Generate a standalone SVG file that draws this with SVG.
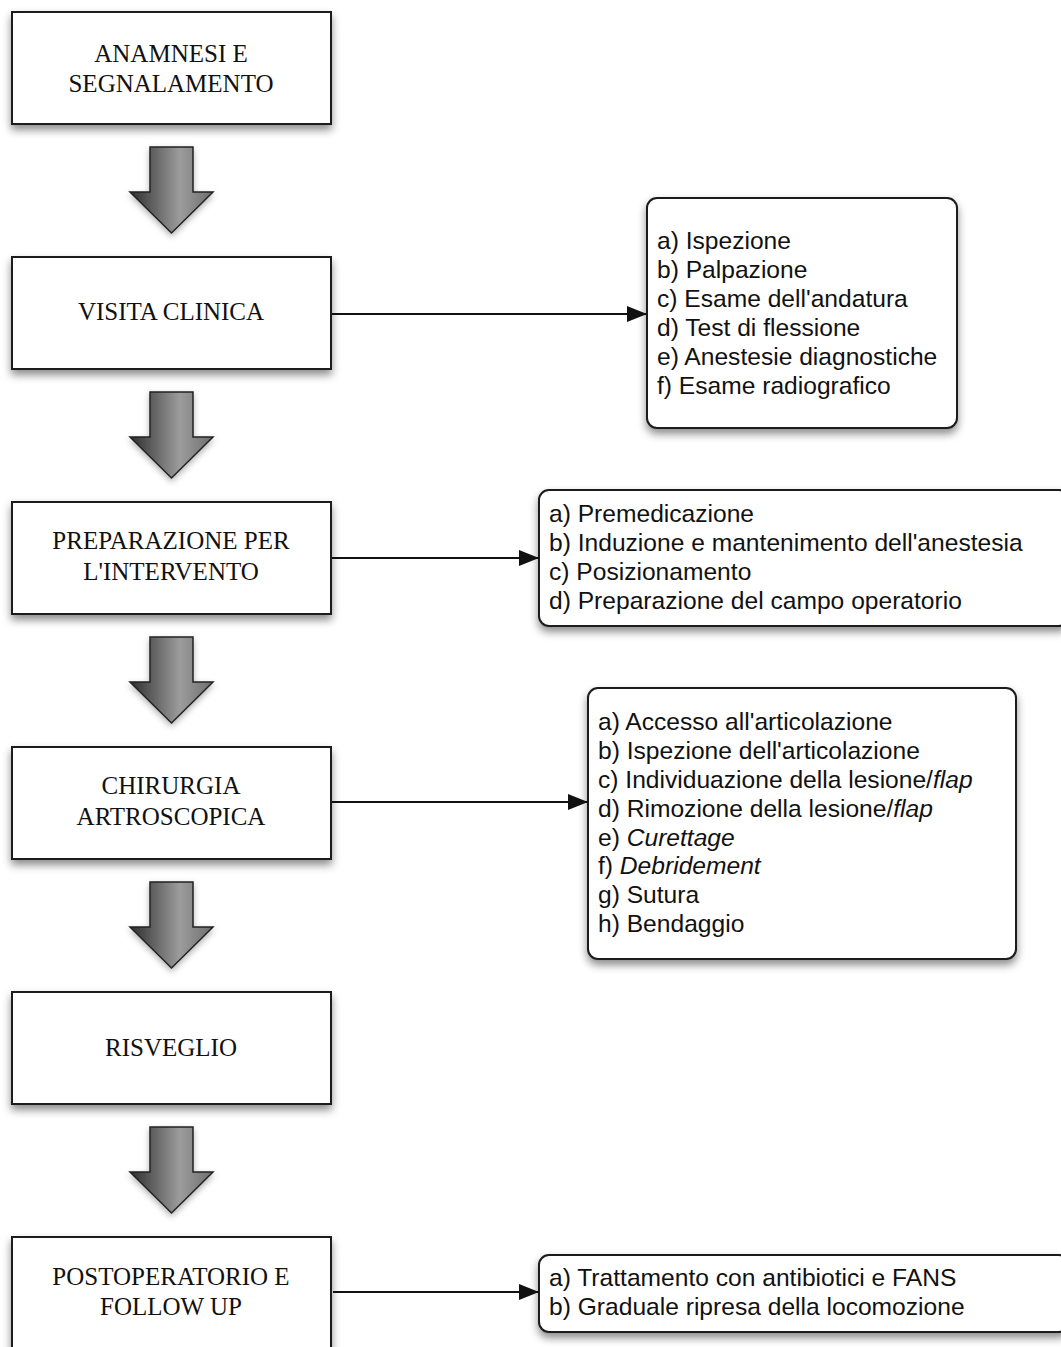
<svg xmlns="http://www.w3.org/2000/svg" width="1061" height="1347" viewBox="0 0 1061 1347">
<style>
.box{fill:#fff;stroke:#1a1a1a;stroke-width:2;filter:url(#sh)}
.lst{fill:#fff;stroke:#1a1a1a;stroke-width:2;filter:url(#sh)}
.st{font-family:"Liberation Serif","Times New Roman",serif;font-size:25px;fill:#111;text-anchor:middle}
.ss{font-family:"Liberation Sans",Arial,sans-serif;font-size:24.6px;fill:#111}
.it{font-style:italic}
.ba{fill:url(#g);stroke:#222;stroke-width:1.5;stroke-linejoin:miter;filter:url(#sh2)}
.con{stroke:#111;stroke-width:2;fill:none;marker-end:url(#ah)}
</style>
<defs>
<filter id="sh" x="-10%" y="-10%" width="120%" height="130%">
<feDropShadow dx="0" dy="5" stdDeviation="4" flood-color="#000" flood-opacity="0.45"/>
</filter>
<filter id="sh2" x="-20%" y="-20%" width="140%" height="140%">
<feDropShadow dx="0" dy="3" stdDeviation="3" flood-color="#000" flood-opacity="0.3"/>
</filter>
<linearGradient id="g" x1="0" y1="0" x2="1" y2="0">
<stop offset="0" stop-color="#2e2e2e"/>
<stop offset="0.6" stop-color="#9c9c9c"/>
<stop offset="1" stop-color="#6e6e6e"/>
</linearGradient>
<marker id="ah" markerUnits="userSpaceOnUse" markerWidth="20" markerHeight="16" refX="20" refY="8" orient="auto">
<path d="M0,0 L20,8 L0,16 Z" fill="#111"/>
</marker>
<path id="barrow" d="M150,147 H193 V192 H213 L171.5,233 L130,192 H150 Z"/>
</defs>

<g id="n1"><rect class="box" x="12" y="12" width="319" height="112"/>
<text class="st" x="171" y="61.5">ANAMNESI E</text><text class="st" x="171" y="91.5">SEGNALAMENTO</text></g>
<g id="n2"><rect class="box" x="12" y="257" width="319" height="112"/>
<text class="st" x="171" y="320">VISITA CLINICA</text></g>
<g id="n3"><rect class="box" x="12" y="502" width="319" height="112"/>
<text class="st" x="171" y="549">PREPARAZIONE PER</text><text class="st" x="171" y="580">L'INTERVENTO</text></g>
<g id="n4"><rect class="box" x="12" y="747" width="319" height="112"/>
<text class="st" x="171" y="794">CHIRURGIA</text><text class="st" x="171" y="825">ARTROSCOPICA</text></g>
<g id="n5"><rect class="box" x="12" y="992" width="319" height="112"/>
<text class="st" x="171" y="1056">RISVEGLIO</text></g>
<g id="n6"><rect class="box" x="12" y="1237" width="319" height="140"/>
<text class="st" x="171" y="1285">POSTOPERATORIO E</text><text class="st" x="171" y="1315">FOLLOW UP</text></g>

<g id="l1"><rect class="lst" x="647" y="198" width="310" height="230" rx="10"/>
<text class="ss" x="657" y="249">a) Ispezione</text>
<text class="ss" x="657" y="278">b) Palpazione</text>
<text class="ss" x="657" y="307">c) Esame dell'andatura</text>
<text class="ss" x="657" y="336">d) Test di flessione</text>
<text class="ss" x="657" y="365">e) Anestesie diagnostiche</text>
<text class="ss" x="657" y="394">f) Esame radiografico</text></g>

<g id="l2"><rect class="lst" x="539" y="490" width="530" height="136" rx="10"/>
<text class="ss" x="549" y="522">a) Premedicazione</text>
<text class="ss" x="549" y="551">b) Induzione e mantenimento dell'anestesia</text>
<text class="ss" x="549" y="580">c) Posizionamento</text>
<text class="ss" x="549" y="609">d) Preparazione del campo operatorio</text></g>

<g id="l3"><rect class="lst" x="588" y="688" width="428" height="271" rx="10"/>
<text class="ss" x="598" y="730">a) Accesso all'articolazione</text>
<text class="ss" x="598" y="759">b) Ispezione dell'articolazione</text>
<text class="ss" x="598" y="788">c) Individuazione della lesione/<tspan class="it">flap</tspan></text>
<text class="ss" x="598" y="817">d) Rimozione della lesione/<tspan class="it">flap</tspan></text>
<text class="ss" x="598" y="846">e) <tspan class="it">Curettage</tspan></text>
<text class="ss" x="598" y="874">f) <tspan class="it">Debridement</tspan></text>
<text class="ss" x="598" y="903">g) Sutura</text>
<text class="ss" x="598" y="932">h) Bendaggio</text></g>

<g id="l4"><rect class="lst" x="539" y="1255" width="530" height="77" rx="10"/>
<text class="ss" x="549" y="1286">a) Trattamento con antibiotici e FANS</text>
<text class="ss" x="549" y="1315">b) Graduale ripresa della locomozione</text></g>

<g id="connectors">
<use href="#barrow" class="ba"/>
<use href="#barrow" class="ba" y="245"/>
<use href="#barrow" class="ba" y="490"/>
<use href="#barrow" class="ba" y="735"/>
<use href="#barrow" class="ba" y="980"/>
<line class="con" x1="332" y1="314" x2="647" y2="314"/>
<line class="con" x1="332" y1="558" x2="539" y2="558"/>
<line class="con" x1="332" y1="802" x2="588" y2="802"/>
<line class="con" x1="333" y1="1292" x2="539" y2="1292"/>
</g>
</svg>
